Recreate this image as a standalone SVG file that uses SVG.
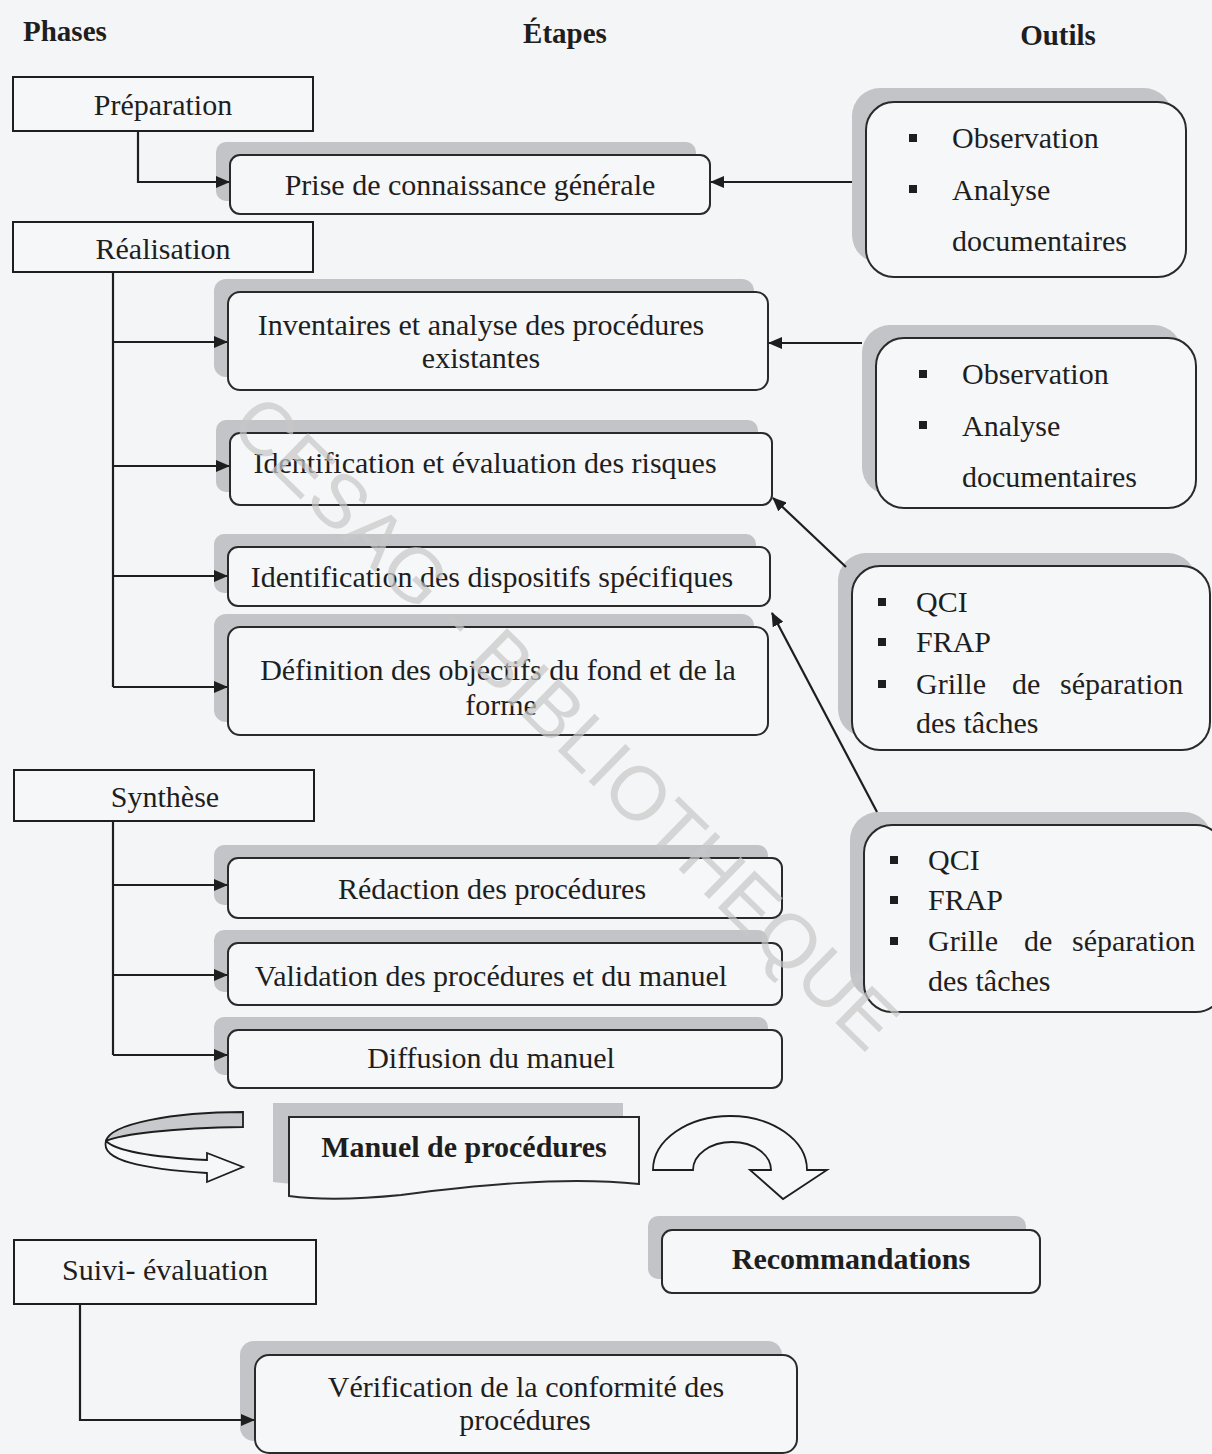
<svg xmlns="http://www.w3.org/2000/svg" width="1212" height="1454" viewBox="0 0 1212 1454">
<defs>
<style>
text{font-family:"Liberation Serif","Times New Roman",serif;fill:#1e1e1e;}
.hd{font-size:29px;font-weight:bold;}
.t{font-size:30px;}
.tb{font-size:30px;font-weight:bold;}
.ph{fill:#f6f7f8;stroke:#1e1e1e;stroke-width:2;}
.bx{fill:#f6f7f8;stroke:#2a2a2a;stroke-width:2;}
.sh{fill:#c3c4c8;stroke:none;}
.cn{fill:none;stroke:#1e1e1e;stroke-width:2.2;}
.bl{fill:#1e1e1e;}
.wm{font-family:"Liberation Sans",Arial,sans-serif;font-size:76px;fill:#c8c8c8;opacity:0.7;}
</style>
<marker id="ah" markerWidth="14" markerHeight="12" refX="13" refY="6" orient="auto" markerUnits="userSpaceOnUse">
<path d="M0,0 L14,6 L0,12 Z" fill="#1e1e1e"/>
</marker>
</defs>
<rect x="0" y="0" width="1212" height="1454" fill="#f4f5f7"/>

<g id="headers">
<text class="hd" x="23" y="41">Phases</text>
<text class="hd" x="565" y="43" text-anchor="middle">Étapes</text>
<text class="hd" x="1058" y="45" text-anchor="middle">Outils</text>
</g>

<g id="phase-preparation">
<rect class="ph" x="13" y="77" width="300" height="54"/>
<text class="t" x="163" y="115" text-anchor="middle">Préparation</text>
</g>
<g id="phase-realisation">
<rect class="ph" x="13" y="222" width="300" height="50"/>
<text class="t" x="163" y="259" text-anchor="middle">Réalisation</text>
</g>
<g id="phase-synthese">
<rect class="ph" x="14" y="770" width="300" height="51"/>
<text class="t" x="165" y="807" text-anchor="middle">Synthèse</text>
</g>
<g id="phase-suivi">
<rect class="ph" x="14" y="1240" width="302" height="64"/>
<text class="t" x="165" y="1280" text-anchor="middle">Suivi- évaluation</text>
</g>

<g id="step-prise">
<rect class="sh" x="216" y="142" width="480" height="59" rx="10"/>
<rect class="bx" x="230" y="155" width="480" height="59" rx="10"/>
<text class="t" x="470" y="195" text-anchor="middle">Prise de connaissance générale</text>
</g>
<g id="step-inventaires">
<rect class="sh" x="214" y="279" width="540" height="98" rx="12"/>
<rect class="bx" x="228" y="292" width="540" height="98" rx="12"/>
<text class="t" x="481" y="335" text-anchor="middle">Inventaires et analyse des procédures</text>
<text class="t" x="481" y="368" text-anchor="middle">existantes</text>
</g>
<g id="step-risques">
<rect class="sh" x="216" y="420" width="542" height="72" rx="10"/>
<rect class="bx" x="230" y="433" width="542" height="72" rx="10"/>
<text class="t" x="485" y="473" text-anchor="middle">Identification et évaluation des risques</text>
</g>
<g id="step-dispositifs">
<rect class="sh" x="214" y="534" width="542" height="59" rx="10"/>
<rect class="bx" x="228" y="547" width="542" height="59" rx="10"/>
<text class="t" x="492" y="587" text-anchor="middle">Identification des dispositifs spécifiques</text>
</g>
<g id="step-definition">
<rect class="sh" x="214" y="614" width="540" height="108" rx="12"/>
<rect class="bx" x="228" y="627" width="540" height="108" rx="12"/>
<text class="t" x="498" y="680" text-anchor="middle">Définition des objectifs du fond et de la</text>
<text class="t" x="501" y="715" text-anchor="middle">forme</text>
</g>
<g id="step-redaction">
<rect class="sh" x="214" y="845" width="554" height="60" rx="10"/>
<rect class="bx" x="228" y="858" width="554" height="60" rx="10"/>
<text class="t" x="492" y="899" text-anchor="middle">Rédaction des procédures</text>
</g>
<g id="step-validation">
<rect class="sh" x="214" y="930" width="554" height="62" rx="10"/>
<rect class="bx" x="228" y="943" width="554" height="62" rx="10"/>
<text class="t" x="491" y="986" text-anchor="middle">Validation des procédures et du manuel</text>
</g>
<g id="step-diffusion">
<rect class="sh" x="214" y="1017" width="554" height="58" rx="10"/>
<rect class="bx" x="228" y="1030" width="554" height="58" rx="10"/>
<text class="t" x="491" y="1068" text-anchor="middle">Diffusion du manuel</text>
</g>

<g id="loop-arrow">
<path d="M243,1112 C172,1112 110,1124 106,1141 C122,1134 172,1128 243,1127 Z" fill="#c8c9cd" stroke="#1e1e1e" stroke-width="1.8"/>
<path d="M106,1141 C100,1160 142,1169 207,1173 L207,1182 L243,1167 L207,1153 L207,1160 C150,1157 116,1151 106,1141 Z" fill="#f6f7f8" stroke="#1e1e1e" stroke-width="1.8"/>
</g>

<g id="manuel">
<path class="sh" d="M273,1103 H623 V1170 C545,1162 455,1172 385,1181 C335,1186 295,1185 273,1182 Z"/>
<path class="bx" d="M289,1117 H639 V1184 C561,1176 471,1186 401,1195 C351,1200 311,1199 289,1196 Z"/>
<text class="tb" x="464" y="1157" text-anchor="middle">Manuel de procédures</text>
</g>

<g id="uturn-arrow">
<path d="M653,1170 A77,54 0 0 1 807,1170 L827,1170 L783,1199 L750,1170 L771,1170 A39,28 0 0 0 693,1170 Z" fill="#f6f7f8" stroke="#1e1e1e" stroke-width="1.8"/>
</g>

<g id="recommandations">
<rect class="sh" x="648" y="1216" width="378" height="63" rx="10"/>
<rect class="bx" x="662" y="1230" width="378" height="63" rx="10"/>
<text class="tb" x="851" y="1269" text-anchor="middle">Recommandations</text>
</g>

<g id="step-verification">
<rect class="sh" x="240" y="1341" width="542" height="100" rx="14"/>
<rect class="bx" x="255" y="1355" width="542" height="98" rx="14"/>
<text class="t" x="526" y="1397" text-anchor="middle">Vérification de la conformité des</text>
<text class="t" x="525" y="1430" text-anchor="middle">procédures</text>
</g>

<g id="tools-1">
<rect class="sh" x="852" y="88" width="320" height="175" rx="28"/>
<rect class="bx" x="866" y="102" width="320" height="175" rx="28"/>
<rect class="bl" x="909" y="134" width="8" height="8"/>
<rect class="bl" x="909" y="185" width="8" height="8"/>
<text class="t" x="952" y="148">Observation</text>
<text class="t" x="952" y="200">Analyse</text>
<text class="t" x="952" y="251">documentaires</text>
</g>
<g id="tools-2">
<rect class="sh" x="862" y="325" width="320" height="170" rx="28"/>
<rect class="bx" x="876" y="338" width="320" height="170" rx="28"/>
<rect class="bl" x="919" y="370" width="8" height="8"/>
<rect class="bl" x="919" y="421" width="8" height="8"/>
<text class="t" x="962" y="384">Observation</text>
<text class="t" x="962" y="436">Analyse</text>
<text class="t" x="962" y="487">documentaires</text>
</g>
<g id="tools-3">
<rect class="sh" x="838" y="553" width="358" height="184" rx="28"/>
<rect class="bx" x="852" y="566" width="358" height="184" rx="28"/>
<rect class="bl" x="878" y="598" width="8" height="8"/>
<rect class="bl" x="878" y="638" width="8" height="8"/>
<rect class="bl" x="878" y="680" width="8" height="8"/>
<text class="t" x="916" y="612">QCI</text>
<text class="t" x="916" y="652">FRAP</text>
<text class="t" y="694"><tspan x="916">Grille</tspan><tspan x="1012">de</tspan><tspan x="1060">séparation</tspan></text>
<text class="t" x="916" y="733">des tâches</text>
</g>
<g id="tools-4">
<rect class="sh" x="850" y="812" width="362" height="187" rx="28"/>
<rect class="bx" x="864" y="825" width="360" height="187" rx="28"/>
<rect class="bl" x="890" y="856" width="8" height="8"/>
<rect class="bl" x="890" y="896" width="8" height="8"/>
<rect class="bl" x="890" y="937" width="8" height="8"/>
<text class="t" x="928" y="870">QCI</text>
<text class="t" x="928" y="910">FRAP</text>
<text class="t" y="951"><tspan x="928">Grille</tspan><tspan x="1024">de</tspan><tspan x="1072">séparation</tspan></text>
<text class="t" x="928" y="991">des tâches</text>
</g>

<g id="connectors">
<path class="cn" d="M138,131 V182 H229" marker-end="url(#ah)"/>
<path class="cn" d="M113,272 V687"/>
<path class="cn" d="M113,342 H227" marker-end="url(#ah)"/>
<path class="cn" d="M113,466 H229" marker-end="url(#ah)"/>
<path class="cn" d="M113,576 H227" marker-end="url(#ah)"/>
<path class="cn" d="M113,687 H227" marker-end="url(#ah)"/>
<path class="cn" d="M113,821 V1055"/>
<path class="cn" d="M113,885 H227" marker-end="url(#ah)"/>
<path class="cn" d="M113,975 H227" marker-end="url(#ah)"/>
<path class="cn" d="M113,1055 H227" marker-end="url(#ah)"/>
<path class="cn" d="M80,1304 V1420 H254" marker-end="url(#ah)"/>
<path class="cn" d="M852,182 H711" marker-end="url(#ah)"/>
<path class="cn" d="M862,343 H769" marker-end="url(#ah)"/>
<path class="cn" d="M846,567 L773,498" marker-end="url(#ah)"/>
<path class="cn" d="M877,812 L772,613" marker-end="url(#ah)"/>
</g>

<g id="watermark">
<text class="wm" transform="translate(566,722) rotate(44.4)" text-anchor="middle" dominant-baseline="central">CESAG - BIBLIOTHEQUE</text>
</g>
</svg>
